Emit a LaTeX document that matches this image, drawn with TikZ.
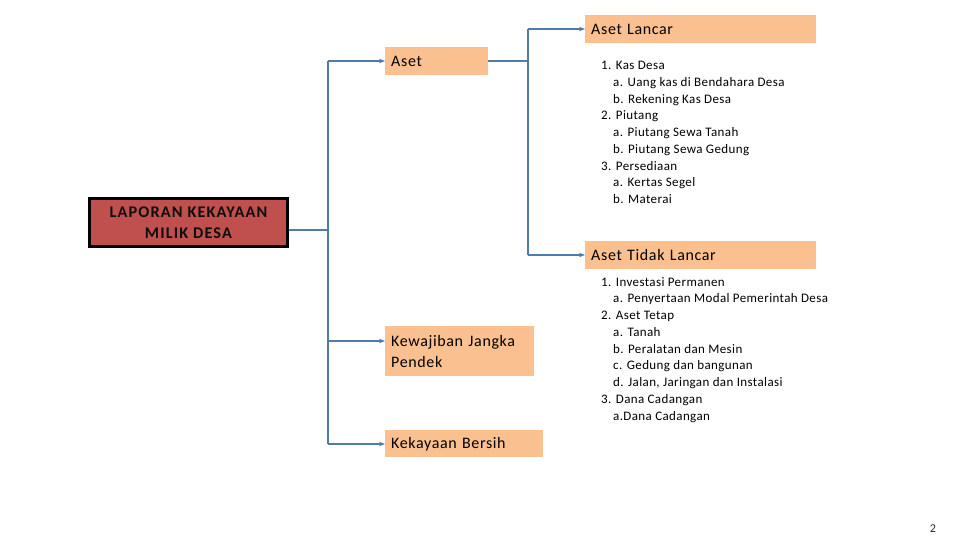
\documentclass[tikz,border=0pt]{standalone}
\usepackage{fontspec}
\setmainfont{Carlito}
\newfontfamily\labelfont{Carlito}[LetterSpace=4]
\newfontfamily\titlefont{Carlito}[LetterSpace=7]
\newfontfamily\listfont{Carlito}[LetterSpace=3]
\usetikzlibrary{arrows.meta}
\definecolor{boxorange}{HTML}{FAC090}
\definecolor{boxred}{HTML}{C0504D}
\definecolor{lineblue}{HTML}{4F7CAC}
\tikzset{
  obox/.style={fill=boxorange, inner sep=0pt, inner xsep=6pt, anchor=north west, align=left, font=\labelfont\fontsize{16}{21}\selectfont},
  onel/.style={text height=12pt, text depth=1.6pt},
  conn/.style={draw=lineblue, line width=1.1pt},
  arr/.style={conn, -{Stealth[length=6pt,width=4.5pt]}},
  list/.style={anchor=north west, inner sep=0pt, align=left, font=\listfont\fontsize{13}{16.75}\selectfont},
}
\newcommand{\sub}{\hspace*{12pt}}
\begin{document}
\begin{tikzpicture}[x=1pt,y=-1pt]
\useasboundingbox (0,0) rectangle (960,540);
% boxes
\node[obox, onel, text width=219pt, minimum height=28pt] (lancar) at (585,15) {Aset Lancar};
\node[obox, onel, text width=91pt, minimum height=28pt] (aset) at (385,47) {Aset};
\node[obox, onel, text width=219pt, minimum height=28pt] (tidak) at (585,241) {Aset Tidak Lancar};
\node[obox, text width=137pt, minimum height=50pt] (kew) at (385,326) {Kewajiban Jangka\\Pendek};
\node[obox, onel, text width=146pt, minimum height=27pt] (bersih) at (385,430) {Kekayaan Bersih};
\node[draw=black, line width=3pt, fill=boxred, minimum width=198pt, minimum height=48pt, align=center, font=\titlefont\bfseries\fontsize{16.3}{20.5}\selectfont, text=black!95] (lap) at (188.5,222.5) {LAPORAN KEKAYAAN\\MILIK DESA};
% lists
\node[list] (list1) at (601,61) {1. Kas Desa\\
\sub a. Uang kas di Bendahara Desa\\
\sub b. Rekening Kas Desa\\
2. Piutang\\
\sub a. Piutang Sewa Tanah\\
\sub b. Piutang Sewa Gedung\\
3. Persediaan\\
\sub a. Kertas Segel\\
\sub b. Materai};
\node[list] (list2) at (601,277) {1. Investasi Permanen\\
\sub a. Penyertaan Modal Pemerintah Desa\\
2. Aset Tetap\\
\sub a. Tanah\\
\sub b. Peralatan dan Mesin\\
\sub c. Gedung dan bangunan\\
\sub d. Jalan, Jaringan dan Instalasi\\
3. Dana Cadangan\\
\sub a.Dana Cadangan};
\node[font=\fontsize{12}{14}\selectfont, text=black!85] (page) at (933,529) {2};
% connectors
\coordinate (lx) at (328,230);
\coordinate (ltop) at (328,61);
\coordinate (lkew) at (328,341);
\coordinate (lbot) at (328,444);
\coordinate (rx) at (528,61);
\coordinate (rtop) at (528,29);
\coordinate (rbot) at (528,255);
\draw[conn] (lap.east |- lx) -- (lx);
\draw[conn] (ltop) -- (lbot);
\draw[arr] (ltop) -- (ltop -| aset.west);
\draw[arr] (lkew) -- (lkew -| kew.west);
\draw[arr] (lbot) -- (lbot -| bersih.west);
\draw[conn] (aset.east |- rx) -- (rx);
\draw[conn] (rtop) -- (rbot);
\draw[arr] (rtop) -- (rtop -| lancar.west);
\draw[arr] (rbot) -- (rbot -| tidak.west);
\end{tikzpicture}
\end{document}
